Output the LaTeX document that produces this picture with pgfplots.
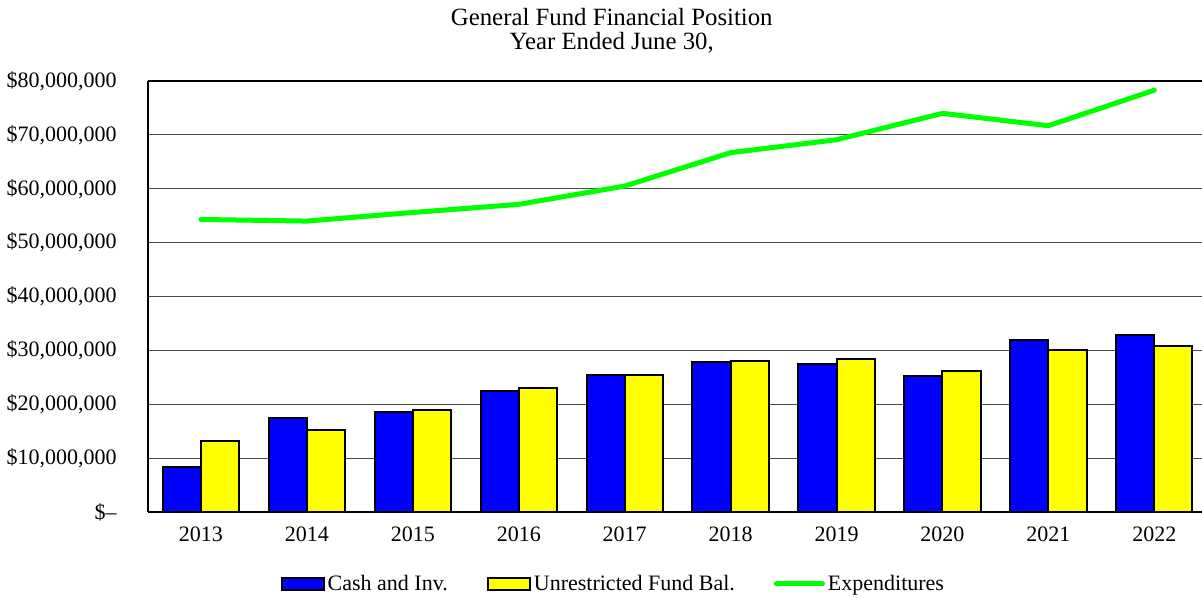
\documentclass[border=0pt]{standalone}
\usepackage{fontspec}
\setmainfont{Liberation Serif}
\usepackage{pgfplots}
\pgfplotsset{compat=1.18}

\definecolor{cashblue}{RGB}{0,0,255}
\definecolor{balyellow}{RGB}{255,255,0}
\definecolor{expgreen}{RGB}{0,255,0}

\begin{document}
\begin{tikzpicture}
\useasboundingbox (-74pt,-43pt) rectangle (527pt,256pt);
\begin{axis}[
    at={(0,0)}, anchor=south west,
    scale only axis,
    width=527pt, height=215.5pt,
    font=\fontsize{11}{13}\selectfont,
    xmin=-0.5, xmax=9.45,
    ymin=0, ymax=80000000,
    axis x line=box, axis y line=left,
    axis line style={-, black, line width=1pt},
    xtick={0,...,9},
    xticklabels={2013,2014,2015,2016,2017,2018,2019,2020,2021,2022},
    x tick style={draw=none},
    xticklabel style={yshift=-4pt},
    extra x ticks={-0.5,0.5,1.5,2.5,3.5,4.5,5.5,6.5,7.5,8.5},
    extra x tick labels={},
    extra x tick style={tick align=outside, major tick length=3pt,
        tick style={black, line width=0.6pt}},
    ytick={0,10000000,...,80000000},
    yticklabels={\$--,{\$10,000,000},{\$20,000,000},{\$30,000,000},{\$40,000,000},
        {\$50,000,000},{\$60,000,000},{\$70,000,000},{\$80,000,000}},
    y tick style={draw=none},
    yticklabel style={xshift=-10pt},
    scaled y ticks=false,
    ymajorgrids,
    grid style={black!70, line width=0.6pt},
    bar width=0.36,
    legend columns=3,
    legend style={at={(0.442,-0.167)}, anchor=center, draw=none, fill=none,
        font=\fontsize{11}{13}\selectfont,
        /tikz/every even column/.append style={column sep=18pt},
        inner sep=0pt, nodes={inner sep=1.5pt}},
    title style={at={(0.44,1)}, anchor=south, yshift=4.5pt, align=center,
        font=\fontsize{12.4}{12}\selectfont},
    title={General Fund Financial Position\\Year Ended June 30,},
]
\addplot[ybar, bar shift=-0.18, fill=cashblue, draw=black, line width=1pt,
    area legend,
    legend image code/.code={\draw[fill=cashblue, draw=black, line width=1pt] (0pt,-3pt) rectangle (21pt,3pt);}]
coordinates {(0,8300000) (1,17400000) (2,18600000) (3,22400000) (4,25500000)
    (5,27800000) (6,27500000) (7,25300000) (8,31900000) (9,32800000)};
\addlegendentry{Cash and Inv.}
\addplot[ybar, bar shift=0.18, fill=balyellow, draw=black, line width=1pt,
    area legend,
    legend image code/.code={\draw[fill=balyellow, draw=black, line width=1pt] (0pt,-3pt) rectangle (21pt,3pt);}]
coordinates {(0,13200000) (1,15200000) (2,19000000) (3,23100000) (4,25500000)
    (5,28100000) (6,28400000) (7,26200000) (8,30000000) (9,30900000)};
\addlegendentry{Unrestricted Fund Bal.}
\addplot[sharp plot, expgreen, line width=2.5pt, line cap=round, line join=round, mark=none,
    legend image code/.code={\draw[expgreen, line width=2.5pt, line cap=round] (2pt,0pt) -- (25pt,0pt);}]
coordinates {(0,54300000) (1,54000000) (2,55600000) (3,57100000) (4,60500000)
    (5,66700000) (6,69100000) (7,74000000) (8,71700000) (9,78300000)};
\addlegendentry{Expenditures}
\end{axis}
\end{tikzpicture}
\end{document}
